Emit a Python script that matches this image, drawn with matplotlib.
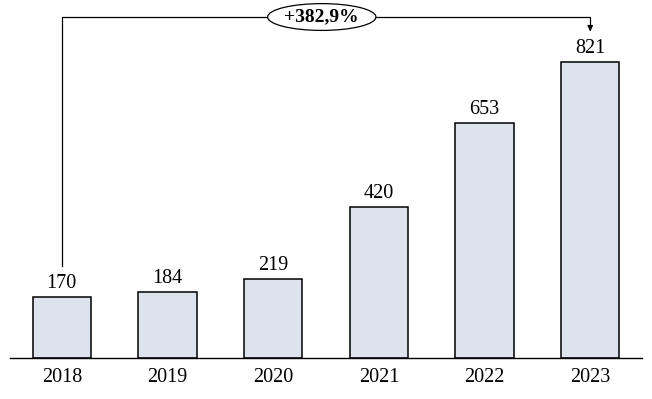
import matplotlib
matplotlib.use("Agg")
import matplotlib.pyplot as plt

years = ["2018", "2019", "2020", "2021", "2022", "2023"]
values = [170, 184, 219, 420, 653, 821]
growth_label = "+382,9%"

plt.rcParams['font.family'] = ['Liberation Serif', 'DejaVu Serif']

fig = plt.figure(figsize=(6.52, 3.99), dpi=100)
ax = fig.add_axes([10/652, 41/399, 632/652, 358/399])
x = list(range(len(years)))
ax.bar(x, values, width=0.55, color="#dce3ed", edgecolor="black", linewidth=1.1, zorder=2)
ax.set_xlim(-0.49, 5.49)
ymax = 993
ax.set_ylim(0, ymax)
for s in ["top", "right", "left"]:
    ax.spines[s].set_visible(False)
ax.spines["bottom"].set_linewidth(1.0)
ax.set_yticks([])
ax.set_xticks(x)
ax.set_xticklabels(years, fontsize=14.5)
ax.tick_params(axis="x", length=0, pad=7)

for xi, v in zip(x, values):
    ax.text(xi, v + 10, str(v), ha="center", va="bottom", fontsize=14.5)

top = max(values) * 1.152
ax.plot([x[0], x[0], x[-1], x[-1]], [values[0] + 85, top, top, max(values) + 95],
        color="black", lw=0.9, clip_on=False, zorder=3)
ax.annotate("", xy=(x[-1], max(values) + 85), xytext=(x[-1], max(values) + 100),
            arrowprops=dict(arrowstyle="-|>", color="black", lw=0.9, mutation_scale=8),
            annotation_clip=False)
ax.text((x[0] + x[-1]) / 2 - 0.04, top, growth_label, ha="center", va="center",
        fontsize=14, fontweight="bold", zorder=4,
        bbox=dict(boxstyle="ellipse,pad=0.05", fc="white", ec="black", lw=0.9))

fig.savefig("out.png", dpi=100)
